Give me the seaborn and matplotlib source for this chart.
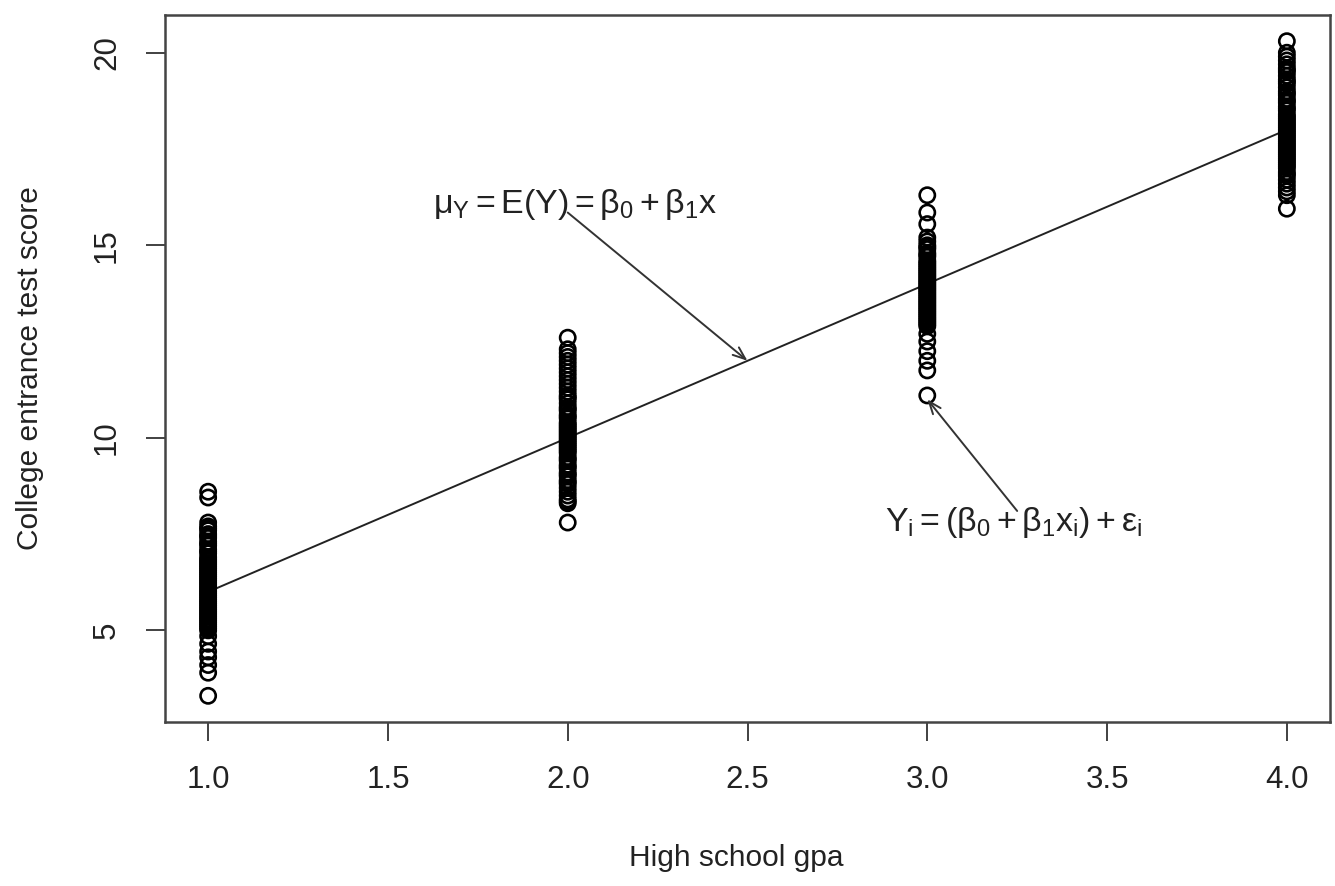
import numpy as np
import pandas as pd
import matplotlib
matplotlib.use("Agg")
import matplotlib.pyplot as plt
import seaborn as sns

# ---- data ----
gpa_levels = [1.0, 2.0, 3.0, 4.0]

scores_gpa1 = [3.3, 3.9, 4.1, 4.3, 4.45, 4.65, 4.85, 5.0, 5.05, 5.1, 5.15, 5.2, 5.25,
               5.3, 5.35, 5.4, 5.45, 5.5, 5.55, 5.6, 5.65, 5.7, 5.75, 5.8, 5.85,
               5.9, 5.95, 6.0, 6.05, 6.1, 6.15, 6.2, 6.25, 6.3, 6.35, 6.4, 6.45,
               6.5, 6.55, 6.6, 6.65, 6.7, 6.75, 6.8, 6.85, 6.9, 7.0, 7.05, 7.1,
               7.2, 7.25, 7.3, 7.4, 7.45, 7.5, 7.6, 7.65, 7.7, 7.8, 8.45, 8.6]
scores_gpa2 = [7.8, 8.3, 8.35, 8.4, 8.5, 8.6, 8.7, 8.8, 8.85, 8.9, 9.0, 9.05, 9.1,
               9.2, 9.25, 9.3, 9.4, 9.45, 9.5, 9.6, 9.65, 9.7, 9.75, 9.8, 9.85,
               9.9, 9.95, 10.0, 10.05, 10.1, 10.15, 10.2, 10.25, 10.3, 10.35,
               10.4, 10.5, 10.55, 10.6, 10.7, 10.75, 10.8, 10.9, 11.0, 11.05,
               11.1, 11.2, 11.3, 11.4, 11.5, 11.6, 11.7, 11.8, 11.9, 12.0, 12.1,
               12.2, 12.3, 12.6]
scores_gpa3 = [11.1, 11.75, 12.0, 12.25, 12.5, 12.7, 12.9, 12.95, 13.0, 13.05, 13.1,
               13.15, 13.2, 13.25, 13.3, 13.35, 13.4, 13.45, 13.5, 13.55, 13.6,
               13.65, 13.7, 13.75, 13.8, 13.85, 13.9, 13.95, 14.0, 14.05, 14.1,
               14.15, 14.2, 14.25, 14.3, 14.35, 14.4, 14.45, 14.5, 14.55, 14.6,
               14.7, 14.75, 14.8, 14.9, 14.95, 15.0, 15.1, 15.2, 15.55, 15.85, 16.3]
scores_gpa4 = [15.95, 16.3, 16.4, 16.5, 16.6, 16.7, 16.8, 16.85, 16.9, 17.0, 17.05,
               17.1, 17.15, 17.2, 17.25, 17.3, 17.35, 17.4, 17.45, 17.5, 17.55,
               17.6, 17.65, 17.7, 17.75, 17.8, 17.85, 17.9, 17.95, 18.0, 18.05,
               18.1, 18.15, 18.2, 18.25, 18.3, 18.35, 18.4, 18.5, 18.55, 18.6,
               18.7, 18.75, 18.8, 18.9, 18.95, 19.0, 19.1, 19.2, 19.25, 19.3,
               19.4, 19.5, 19.55, 19.6, 19.7, 19.8, 19.9, 20.0, 20.3]

line_x = [1.0, 4.0]
line_y = [6.0, 18.0]

x_ticks = [1.0, 1.5, 2.0, 2.5, 3.0, 3.5, 4.0]
x_tick_labels = ["1.0", "1.5", "2.0", "2.5", "3.0", "3.5", "4.0"]
y_ticks = [5, 10, 15, 20]
y_tick_labels = ["5", "10", "15", "20"]

mean_label = r"$\mu_{\mathrm{Y}} = \mathrm{E(Y)} = \beta_0 + \beta_1\mathrm{x}$"
obs_label = r"$\mathrm{Y}_\mathrm{i} = (\beta_0 + \beta_1\mathrm{x}_\mathrm{i}) + \varepsilon_\mathrm{i}$"
mean_text_xy = (2.02, 16.05)
mean_arrow_from = (2.0, 15.85)
mean_arrow_to = (2.5, 12.0)
obs_text_xy = (3.24, 7.8)
obs_arrow_from = (3.25, 8.1)
obs_arrow_to = (3.0, 11.0)

# ---- build table ----
groups = [scores_gpa1, scores_gpa2, scores_gpa3, scores_gpa4]
df = pd.DataFrame({
    "gpa": np.concatenate([[g] * len(s) for g, s in zip(gpa_levels, groups)]),
    "score": np.concatenate(groups),
})

# ---- style ----
sns.set_style("ticks")
plt.rcParams["font.family"] = ["Liberation Sans", "DejaVu Sans"]
plt.rcParams["mathtext.fontset"] = "custom"
plt.rcParams["mathtext.rm"] = "Liberation Sans"
plt.rcParams["mathtext.it"] = "Liberation Sans"
plt.rcParams["mathtext.bf"] = "Liberation Sans:bold"
plt.rcParams["mathtext.sf"] = "Liberation Sans"

fig = plt.figure(figsize=(13.35, 8.86), dpi=100)
ax = fig.add_axes([165 / 1335, 1 - 722 / 886, 1165 / 1335, 707 / 886])

sns.scatterplot(data=df, x="gpa", y="score", ax=ax, marker="o", s=120,
                facecolors="none", edgecolor="black", linewidth=1.9, zorder=3)
sns.lineplot(x=line_x, y=line_y, ax=ax, color="#222222", linewidth=1.4, zorder=2)

# R-style 4% axis extension
xmin, xmax = min(gpa_levels), max(gpa_levels)
ymin, ymax = df["score"].min(), df["score"].max()
ax.set_xlim(xmin - 0.04 * (xmax - xmin), xmax + 0.04 * (xmax - xmin))
ax.set_ylim(ymin - 0.04 * (ymax - ymin), ymax + 0.04 * (ymax - ymin))

ax.set_xticks(x_ticks)
ax.set_xticklabels(x_tick_labels)
ax.set_yticks(y_ticks)
ax.set_yticklabels(y_tick_labels)
for lbl in ax.get_yticklabels():
    lbl.set_rotation(90)
    lbl.set_va("center")
    lbl.set_ha("right")

ax.tick_params(axis="both", direction="out", length=14, width=1.3,
               color="#333333", labelsize=22.5, labelcolor="#222222", pad=17)

for sp in ax.spines.values():
    sp.set_visible(True)
    sp.set_color("#444444")
    sp.set_linewidth(1.8)

ax.set_xlabel("High school gpa", fontsize=21.5, color="#222222", va="center")
ax.xaxis.set_label_coords(0.49, (722 - 858) / 707)
ax.set_ylabel("College entrance test score", fontsize=21.5, color="#222222", va="center")
ax.yaxis.set_label_coords((30 - 165) / 1165, 0.5)

arrow_kw = dict(arrowstyle="->,head_length=0.9,head_width=0.35", color="#333333",
                lw=1.4, shrinkA=0, shrinkB=0)
ax.annotate("", xy=mean_arrow_to, xytext=mean_arrow_from, arrowprops=arrow_kw)
ax.annotate("", xy=obs_arrow_to, xytext=obs_arrow_from, arrowprops=arrow_kw)
ax.text(*mean_text_xy, mean_label, fontsize=24.5, ha="center", va="center", color="#222222")
ax.text(*obs_text_xy, obs_label, fontsize=24.5, ha="center", va="center", color="#222222")

fig.savefig("out.png", dpi=100)
